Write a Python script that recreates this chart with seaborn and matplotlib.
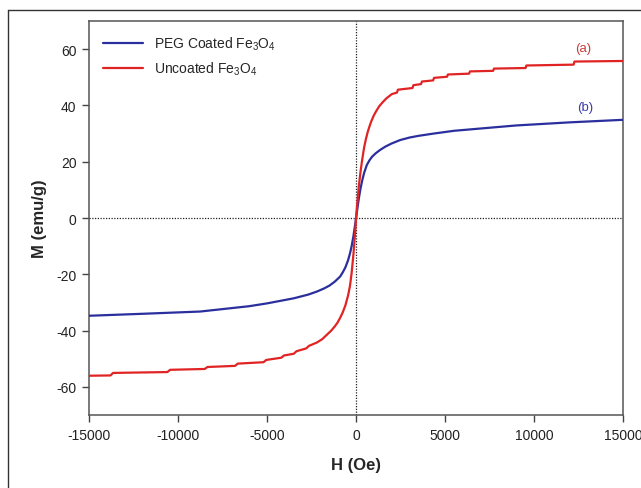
"""M-H hysteresis loops of PEG coated vs uncoated Fe3O4 nanoparticles."""

import matplotlib

matplotlib.use("Agg")

import matplotlib.pyplot as plt
import pandas as pd
import seaborn as sns
from matplotlib.lines import Line2D


H_UNCOATED = [
    -15000, -13800, -13650, -10600, -10450, -8500, -8350, -6800, -6650, -5200,
    -5050, -4200, -4050, -3500, -3350, -2800, -2650, -2200, -1900, -1650,
    -1400, -1200, -1050, -900, -750, -600, -450, -340, -250, -150,
    -50, 0, 50, 150, 250, 350, 450, 550, 650, 750,
    850, 1000, 1150, 1300, 1500, 1700, 2000, 2300, 2350, 3170,
    3220, 3650, 3700, 4330, 4380, 5110, 5160, 6350, 6400, 7700,
    7750, 9520, 9570, 12220, 12270, 15000,
]
M_UNCOATED = [
    -56.0, -55.9, -55.0, -54.7, -53.9, -53.6, -52.9, -52.5, -51.7, -51.2,
    -50.4, -49.6, -48.8, -48.2, -47.3, -46.3, -45.4, -44.2, -43.0, -41.5,
    -40.0, -38.5, -37.2, -35.5, -33.5, -31.0, -27.5, -24.0, -19.5, -13.0,
    -5.0, 0.0, 4.0, 11.0, 16.5, 21.0, 25.0, 28.0, 30.5, 32.5,
    34.3, 36.5, 38.2, 39.7, 41.2, 42.5, 44.0, 44.6, 45.6, 46.2,
    47.2, 47.6, 48.5, 48.9, 49.8, 50.2, 51.0, 51.3, 52.1, 52.3,
    53.1, 53.3, 54.2, 54.5, 55.6, 55.8,
]

# PEG coated Fe3O4 (b)
H_PEG = [
    -15000, -12000, -8760, -6000, -5000, -3500, -2700, -2200, -1800, -1500,
    -1200, -900, -750, -600, -450, -340, -250, -150, -50, 0,
    50, 150, 250, 350, 450, 600, 750, 900, 1100, 1350,
    1650, 2000, 2470, 3000, 3500, 4340, 5500, 6970, 9000, 12000,
    15000,
]
M_PEG = [
    -34.7, -34.0, -33.2, -31.3, -30.3, -28.5, -27.2, -26.1, -25.0, -24.0,
    -22.6, -20.8, -19.3, -17.5, -15.0, -12.5, -10.0, -6.5, -2.2, 0.0,
    2.3, 6.8, 10.5, 13.5, 16.0, 18.8, 20.5, 21.8, 23.0, 24.2,
    25.4, 26.5, 27.7, 28.6, 29.2, 30.0, 31.0, 31.8, 32.9, 34.0,
    34.9,
]

SERIES_LABELS = ["PEG Coated Fe$_3$O$_4$", "Uncoated Fe$_3$O$_4$"]
SERIES_COLORS = ["#2b2f9e", "#e02424"]
X_TICKS = [-15000, -10000, -5000, 0, 5000, 10000, 15000]
Y_TICKS = [-60, -40, -20, 0, 20, 40, 60]


sns.set_theme(style="ticks")
plt.rcParams["font.family"] = ["Liberation Sans", "DejaVu Sans"]
plt.rcParams["mathtext.fontset"] = "custom"
plt.rcParams["mathtext.rm"] = "Liberation Sans"
plt.rcParams["mathtext.it"] = "Liberation Sans"
plt.rcParams["mathtext.default"] = "regular"
plt.rcParams["axes.unicode_minus"] = False

df = pd.concat(
    [
        pd.DataFrame({"H": H_PEG, "M": M_PEG, "sample": SERIES_LABELS[0]}),
        pd.DataFrame({"H": H_UNCOATED, "M": M_UNCOATED, "sample": SERIES_LABELS[1]}),
    ],
    ignore_index=True,
)

fig, ax = plt.subplots(figsize=(6.41, 4.89), dpi=100)
fig.subplots_adjust(left=0.139, right=0.972, top=0.955, bottom=0.149)

ax.axhline(0, color="#222222", linewidth=0.9, linestyle=(0, (1, 1.2)), zorder=1)
ax.axvline(0, color="#222222", linewidth=0.9, linestyle=(0, (1, 1.2)), zorder=1)

sns.lineplot(
    data=df,
    x="H",
    y="M",
    hue="sample",
    hue_order=SERIES_LABELS,
    palette=SERIES_COLORS,
    sort=False,
    estimator=None,
    linewidth=1.6,
    ax=ax,
    zorder=3,
)

ax.set_xlim(-15000, 15000)
ax.set_ylim(-70, 70)
ax.set_xticks(X_TICKS)
ax.set_yticks(Y_TICKS)
ax.tick_params(direction="out", length=5, width=1, colors="#444444", labelcolor="#222222", labelsize=10, pad=4)
for spine in ax.spines.values():
    spine.set_visible(True)
    spine.set_color("#555555")
    spine.set_linewidth(1.1)

ax.set_xlabel("H (Oe)", fontsize=12, fontweight="bold", labelpad=11)
ax.set_ylabel("M (emu/g)", fontsize=12, fontweight="bold", labelpad=7)

ax.text(12750, 60.3, "(a)", color="#c83c3c", fontsize=9.5, ha="center", va="center")
ax.text(12860, 39.4, "(b)", color="#3c3ca8", fontsize=9.5, ha="center", va="center")

ax.legend(
    loc="upper left",
    frameon=False,
    fontsize=10,
    handlelength=2.9,
    borderaxespad=0.6,
    labelspacing=0.55,
)

# outer frame of the original figure, cut off at the right and bottom
fig.add_artist(Line2D([8 / 641, 8 / 641], [0, 1 - 11 / 489], transform=fig.transFigure, color="#333333", linewidth=1))
fig.add_artist(Line2D([8 / 641, 1], [1 - 11 / 489, 1 - 11 / 489], transform=fig.transFigure, color="#333333", linewidth=1))

fig.savefig("out.png", dpi=100)
plt.close(fig)
